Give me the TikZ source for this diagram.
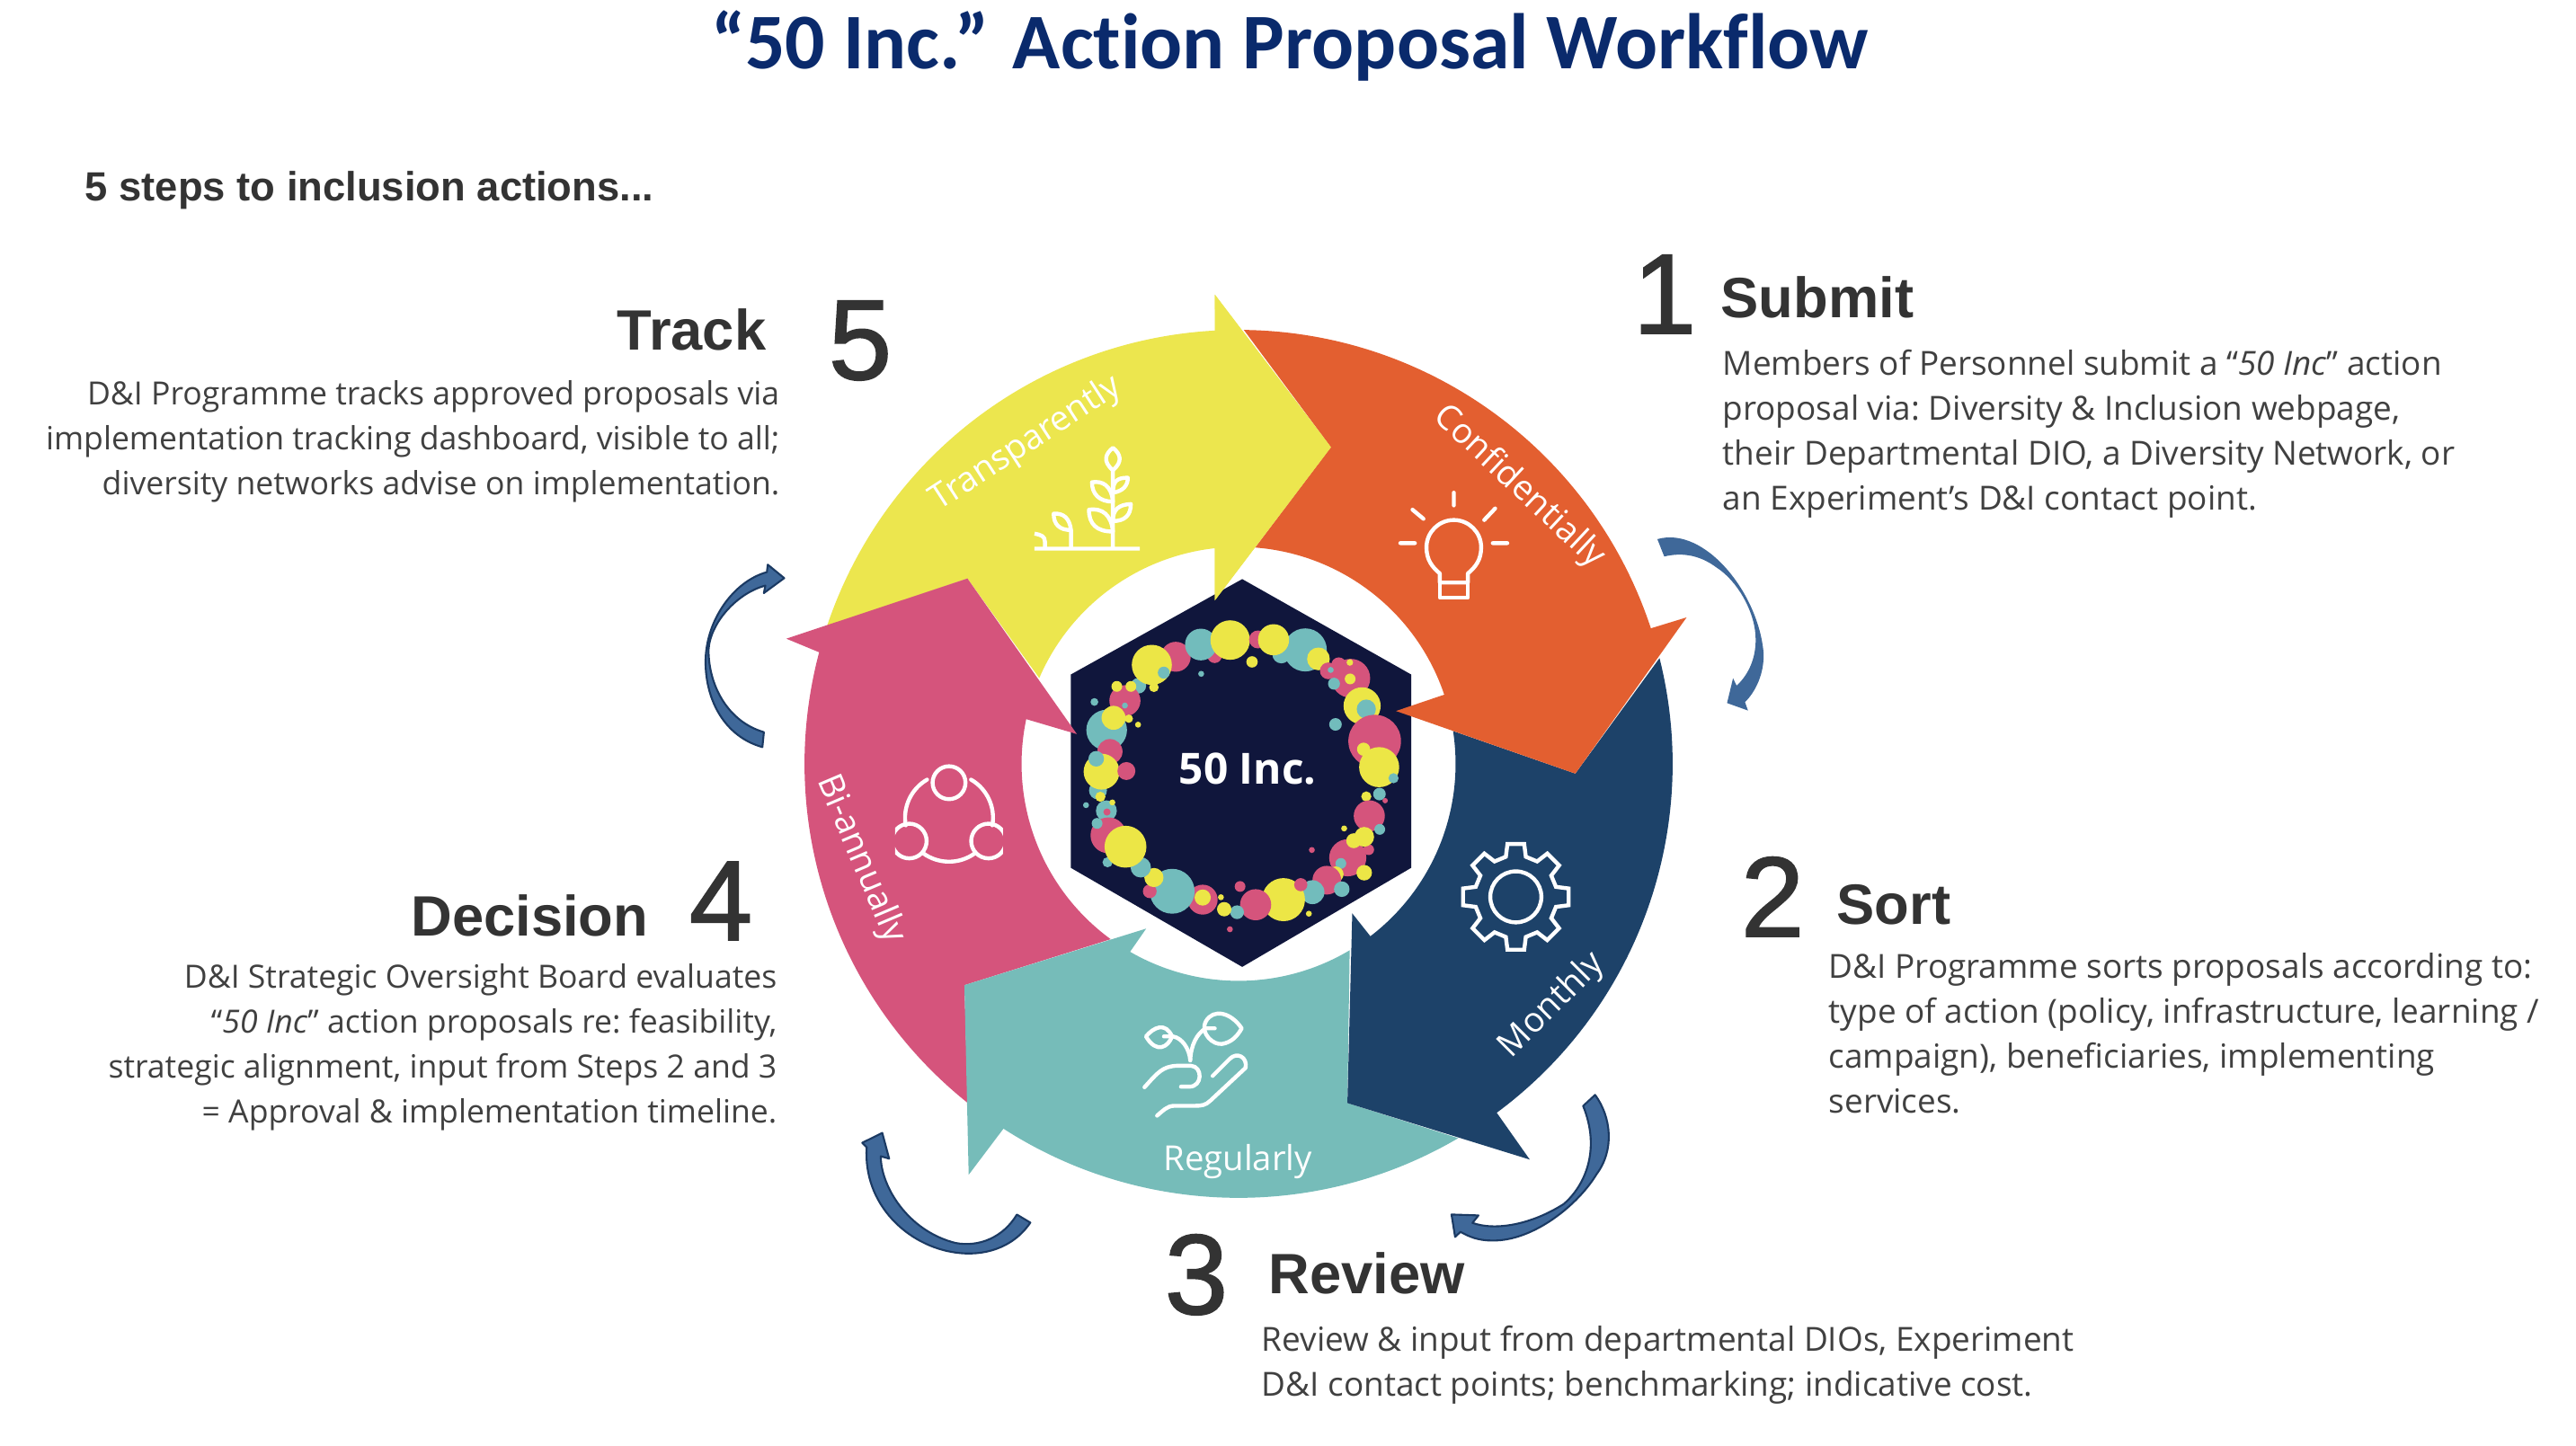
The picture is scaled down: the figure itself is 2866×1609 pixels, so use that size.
\documentclass[tikz,border=0pt]{standalone}
\usepackage{fontspec}
\newfontfamily\titlefont[Ligatures={TeX,NoCommon}]{Carlito}
\newfontfamily\headfont{Liberation Sans}
\newfontfamily\numfont[FakeBold=1.4]{Liberation Sans}
\newfontfamily\bodyfont{Open Sans}
\newfontfamily\hexfont{Open Sans}
\definecolor{cOrange}{HTML}{E35F30}
\definecolor{cYellow}{HTML}{ECE64E}
\definecolor{cPink}{HTML}{D5547C}
\definecolor{cTeal}{HTML}{76BCB9}
\definecolor{cBlue}{HTML}{1D4269}
\definecolor{cHex}{HTML}{10163C}
\definecolor{cTitle}{HTML}{0A2A6C}
\definecolor{cHead}{HTML}{333333}
\definecolor{cBody}{HTML}{404040}
\definecolor{cArrow}{HTML}{3F6899}
\definecolor{cArrowEdge}{HTML}{1B3A63}
\definecolor{bY}{HTML}{ECE646}
\definecolor{bT}{HTML}{72BCBC}
\definecolor{bP}{HTML}{D5547C}
\newcommand{\firstline}{\rule{0pt}{0.3cm}}
\tikzset{
  ringframe/.style={shift={(1378,759)},x=0.006761cm,y=0.006761cm},
  zoomone/.style={shift={(860,1309)},x=0.006761cm,y=0.006761cm},
  zoomat/.style 2 args={shift={(#1,1609-#2)},x=0.00333333cm,y=0.00333333cm},
  icon/.style={draw=white,line width=1.25pt,line cap=round,line join=round},
  titletext/.style={font=\titlefont\bfseries\fontsize{24.95}{30}\selectfont,text=cTitle,inner sep=0pt},
  subtext/.style={font=\headfont\bfseries\fontsize{12.9}{15}\selectfont,text=cHead,inner sep=0pt},
  headtext/.style={font=\headfont\bfseries\fontsize{18}{22}\selectfont,text=cHead,inner sep=0pt},
  numtext/.style={font=\numfont\fontsize{36}{40}\selectfont,text=cHead,inner sep=0pt,anchor=base},
  bodyleft/.style={font=\frenchspacing\bodyfont\fontsize{10.12}{14.2}\selectfont,text=cBody,inner sep=0pt},
  bodyright/.style={font=\frenchspacing\bodyfont\fontsize{10.5}{14.2}\selectfont,text=cBody,inner sep=0pt},
  ringlabel/.style={font=\bodyfont\fontsize{10.9}{12}\selectfont,text=white,inner sep=0pt},
  turnarrow/.style={fill=cArrow,draw=cArrowEdge,line width=0.6pt,line join=round},
}
\begin{document}
\begin{tikzpicture}[x=0.01cm,y=0.01cm]
\useasboundingbox (0,0) rectangle (2866,1609);
\fill[white] (0,0) rectangle (2866,1609);

% hexagon
\begin{scope}[ringframe]
\fill[cHex] (6,304) -- (284,147) -- (284,-171) -- (6,-334) -- (-276,-171) -- (-276,147) -- cycle;
\end{scope}

% bubbles
\begin{scope}[zoomat={1170}{630}]
\foreach \c/\x/\y/\r in {
 bP/415/303/50, bP/545/300/24, bT/499/262/53, bY/597/247/66, bP/690/245/30, bT/768/295/30, bT/848/280/72, bY/742/246/52, bY/892/310/38, bY/670/320/19, bT/500/360/10,
 bT/290/400/26, bY/335/330/67, bT/375/356/20, bY/342/405/16,
 bP/925/350/28, bP/960/330/25, bP/1000/375/65, bT/933/347/10, bY/997/322/11, bY/998/377/18, bT/944/393/20,
 bY/1038/467/62, bT/1052/478/32, bT/949/529/21,
 bP/1080/585/88, bY/1095/672/67, bY/1043/612/22, bT/1143/709/17, bY/1052/770/17, bT/1096/762/21, bP/1115/784/9,
 bP/1062/835/52, bY/978/877/10, bT/1097/880/18, bP/1060/948/18, bP/990/975/62, bY/1045/905/33, bY/1010/918/25, bT/967/994/18, bY/950/1030/26, bY/1045/1025/26, bP/870/949/10,
 bP/920/1050/48, bT/970/1080/26, bT/872/1090/40, bY/775/1115/72, bP/833/1065/22, bP/682/1132/52, bY/860/1162/10, bP/630/1071/18, bT/620/1157/23, bY/577/1147/24, bY/566/1107/10, bP/596/1214/10, bP/505/1115/50, bY/505/1108/27, bT/403/1087/75, bP/328/1087/23, bY/342/1041/32, bT/298/1007/34, bT/187/990/17,
 bT/183/818/35, bP/190/900/60, bY/247/938/70, bT/152/860/18, bP/185/822/12, bY/203/790/10, bT/115/799/10,
 bP/245/450/52, bT/184/548/68, bP/195/620/42, bT/155/750/30, bY/163/771/17, bY/167/687/60, bT/149/644/26, bP/250/685/30,
 bY/207/507/40, bY/258/510/14, bT/245/466/10, bY/218/402/18, bY/265/402/18, bT/143/454/13, bY/289/530/10}
 {\fill[\c] (\x,-\y) circle[radius=\r];}
\end{scope}
\node[font=\hexfont\bfseries\fontsize{13.6}{16}\selectfont,text=white,inner sep=0pt,anchor=base] (hexlabel) at (1388,736) {50 Inc.};

% ring arrows
\begin{scope}[ringframe]
\fill[cYellow] (161.5:714) arc[start angle=161.5,end angle=93.1,radius=714] -- (-39,772) -- (152,521) -- (-39,269) -- (96.3:357) arc[start angle=96.3,end angle=156.7,radius=357] -- (-446,305) -- cycle;
\fill[cPink] (231.4:714) arc[start angle=231.4,end angle=165.1,radius=714] -- (-744,206) -- (-446,305) -- (-266,49) -- (168.1:357) arc[start angle=168.1,end angle=233.9,radius=357] -- (-451,-364) -- cycle;
\fill[cTeal] (300.4:714) arc[start angle=300.4,end angle=237.2,radius=714] -- (-444,-676) -- (-451,-364) -- (-152,-271) -- (240:357) arc[start angle=240,end angle=300.8,radius=357] -- (179,-558) -- cycle;
\fill[cBlue] (14.1:714) arc[start angle=14.1,end angle=-53.5,radius=714] -- (479,-651) -- (179,-558) -- (187,-246) -- (-52.6:357) arc[start angle=-52.6,end angle=8.7,radius=357] -- (554,-16) -- cycle;
\fill[cOrange] (89.3:714) arc[start angle=89.3,end angle=18.2,radius=714] -- (737,241) -- (554,-16) -- (259,87) -- (18.6:357) arc[start angle=18.6,end angle=85.6,radius=357] -- (152,521) -- cycle;
\fill[cYellow] (-39,772) -- (152,521) -- (-39,269) -- cycle;
\end{scope}

% ring labels
\node[ringlabel,rotate=33] (l5) at (1142,1115) {Transparently};
\node[ringlabel,rotate=-43] (l1) at (1690,1067) {Confidentially};
\node[ringlabel,rotate=45] (l2) at (1727,490) {Monthly};
\node[ringlabel] (l3) at (1377,316) {Regularly};
\node[ringlabel,rotate=-67] (l4) at (957,653) {Bi-annually};

% bulb
\begin{scope}[zoomone]
\draw[icon] (1120,-367) -- (1120,-388) (1052,-395) -- (1070,-410) (1188,-393) -- (1170,-412) (1032,-450) -- (1056,-450) (1184,-450) -- (1208,-450);
\draw[icon] (1097,-515) -- (1097,-500) .. controls (1085,-490) and (1075,-478) .. (1075,-457) arc[start angle=180,end angle=0,radius=45] .. controls (1165,-478) and (1155,-490) .. (1143,-500) -- (1143,-515) -- cycle;
\draw[icon] (1097,-515) rectangle (1143,-540);
% gear
\begin{scope}[shift={(1222,-1032)}]
\draw[icon] (0,0) circle[radius=42];
\draw[icon,line join=miter] (-14:68) foreach \a in {0,45,...,315} { -- ({\a-14}:68) -- ({\a-9}:88) -- ({\a+9}:88) -- ({\a+14}:68) } -- cycle;
\end{scope}
\end{scope}

% plant
\begin{scope}[zoomat={1140}{490}]
\draw[icon,line cap=butt] (33,-362) -- (385,-362) (33,-312) .. controls (55,-316) and (68,-320) .. (68,-340) -- (68,-362) (155,-362) -- (155,-300) (295,-362) -- (295,-100);
\draw[icon] (295,-100) .. controls (260,-70) and (270,-45) .. (295,-25) .. controls (320,-45) and (330,-70) .. (295,-100);
\draw[icon] (295,-205) .. controls (290,-150) and (260,-135) .. (225,-140) .. controls (225,-180) and (250,-205) .. (295,-205);
\draw[icon] (295,-175) .. controls (330,-170) and (345,-150) .. (345,-125) .. controls (310,-125) and (295,-135) .. (295,-175);
\draw[icon] (295,-305) .. controls (290,-250) and (260,-225) .. (215,-232) .. controls (215,-280) and (240,-305) .. (295,-305);
\draw[icon] (295,-270) .. controls (335,-270) and (355,-250) .. (355,-213) .. controls (315,-215) and (295,-230) .. (295,-270);
\draw[icon] (155,-300) .. controls (150,-260) and (130,-243) .. (97,-245) .. controls (97,-280) and (115,-300) .. (155,-300);
\end{scope}

% hand
\begin{scope}[zoomat={1260}{1110}]
\draw[icon] (45,-130) .. controls (70,-100) and (110,-80) .. (132,-130) .. controls (120,-165) and (80,-190) .. (45,-130) -- cycle;
\draw[icon] (105,-130) -- (135,-130) .. controls (165,-135) and (190,-170) .. (193,-210);
\draw[icon] (365,-103) .. controls (330,-50) and (270,-35) .. (245,-80) .. controls (225,-120) and (270,-160) .. (300,-155) .. controls (330,-150) and (350,-130) .. (365,-103) -- cycle;
\draw[icon] (275,-103) -- (245,-103) .. controls (215,-120) and (195,-160) .. (193,-210);
\draw[icon] (40,-300) .. controls (85,-250) and (100,-230) .. (150,-228) -- (195,-228) .. controls (235,-230) and (235,-298) .. (190,-298) -- (162,-298);
\draw[icon] (268,-262) -- (325,-205) .. controls (350,-180) and (385,-200) .. (378,-235) -- (260,-345) .. controls (245,-360) and (230,-362) .. (210,-362) -- (140,-362) .. controls (115,-362) and (100,-380) .. (82,-395);
\end{scope}

% trio
\begin{scope}[zoomat={980}{840}]
\begin{scope}
\clip (48,-20) rectangle (408,-380);
\draw[icon] (228,-93) circle[radius=55] (95,-288) circle[radius=58] (360,-288) circle[radius=58];
\end{scope}
\draw[icon,shift={(228,-210)}] (120:147) arc[start angle=120,end angle=190,radius=147] (60:147) arc[start angle=60,end angle=-10,radius=147] (234:147) arc[start angle=234,end angle=306,radius=147];
\end{scope}

% turn arrows
\begin{scope}[zoomat={1800}{560}]
\fill[cArrow] (132,-120) .. controls (290,-75) and (470,-300) .. (487,-500) .. controls (490,-570) and (460,-630) .. (425,-665) -- (435,-693) -- (365,-668) -- (385,-585) -- (397,-610) .. controls (440,-570) and (465,-510) .. (460,-440) .. controls (455,-360) and (400,-260) .. (330,-215) .. controls (270,-170) and (210,-165) .. (155,-178) -- cycle;
\end{scope}
\begin{scope}[zoomat={1560}{1200}]
\filldraw[turnarrow] (645,-55) .. controls (700,-130) and (710,-240) .. (650,-320) .. controls (590,-420) and (440,-545) .. (300,-542) .. controls (255,-542) and (225,-530) .. (195,-513) -- (177,-530) -- (165,-455) -- (255,-458) -- (235,-483) .. controls (310,-510) and (430,-490) .. (540,-420) .. controls (610,-360) and (665,-240) .. (605,-92) -- cycle;
\end{scope}
\begin{scope}[zoomat={930}{1240}]
\filldraw[turnarrow] (650,-362) .. controls (590,-450) and (490,-475) .. (400,-462) .. controls (240,-440) and (90,-300) .. (103,-110) -- (88,-95) -- (155,-62) -- (178,-148) -- (150,-140) .. controls (150,-240) and (240,-390) .. (400,-430) .. controls (480,-445) and (560,-410) .. (605,-335) -- cycle;
\end{scope}
\begin{scope}[zoomat={770}{620}]
\filldraw[turnarrow] (235,-635) .. controls (110,-600) and (45,-480) .. (45,-350) .. controls (45,-210) and (140,-80) .. (250,-50) -- (253,-25) -- (308,-70) -- (240,-120) -- (245,-95) .. controls (150,-120) and (60,-220) .. (55,-310) .. controls (55,-430) and (120,-550) .. (240,-585) -- cycle;
\end{scope}

% title
\node[titletext,anchor=base] (title) at (1435,1532) {“50 Inc.” Action Proposal Workflow};
\node[subtext,anchor=base west] (subtitle) at (94,1385) {5 steps to inclusion actions...};

% step 1
\node[numtext] (n1) at (1852,1238) {1};
\node[headtext,anchor=base west] (h1) at (1914,1255) {Submit};
\node[bodyright,align=left,anchor=north west] (b1) at (1916,1222) {\firstline Members of Personnel submit a “\textit{50 Inc}” action\\proposal via: Diversity \& Inclusion webpage,\\their Departmental DIO, a Diversity Network, or\\an Experiment’s D\&I contact point.};
% step 2
\node[numtext] (n2) at (1972,567) {2};
\node[headtext,anchor=base west] (h2) at (2043,580) {Sort};
\node[bodyright,align=left,anchor=north west] (b2) at (2034,551) {\firstline D\&I Programme sorts proposals according to:\\type of action (policy, infrastructure, learning /\\campaign), beneficiaries, implementing\\services.};
% step 3
\node[numtext] (n3) at (1331,147) {3};
\node[headtext,anchor=base west] (h3) at (1411,169) {Review};
\node[bodyright,align=left,anchor=north west] (b3) at (1403,136) {\firstline Review \& input from departmental DIOs, Experiment\\D\&I contact points; benchmarking; indicative cost.};
% step 4
\node[numtext] (n4) at (802,563) {4};
\node[headtext,anchor=base east] (h4) at (722,567) {Decision};
\node[bodyleft,align=right,anchor=north east] (b4) at (865,540) {\firstline D\&I Strategic Oversight Board evaluates\\“\textit{50 Inc}” action proposals re: feasibility,\\strategic alignment, input from Steps 2 and 3\\= Approval \& implementation timeline.};
% step 5
\node[numtext] (n5) at (957,1187) {5};
\node[headtext,anchor=base east] (h5) at (853,1219) {Track};
\node[bodyleft,align=right,anchor=north east] (b5) at (868,1189) {\firstline D\&I Programme tracks approved proposals via\\implementation tracking dashboard, visible to all;\\diversity networks advise on implementation.};
\end{tikzpicture}
\end{document}
